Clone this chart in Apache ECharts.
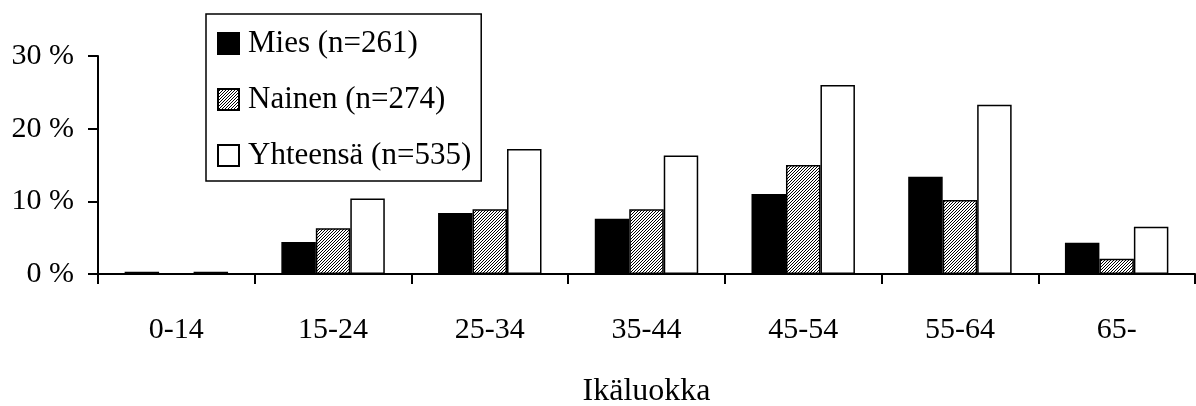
<!DOCTYPE html>
<html>
<head>
<meta charset="utf-8">
<script src="https://cdn.jsdelivr.net/npm/echarts@6/dist/echarts.min.js"></script>
<style>
html,body{margin:0;padding:0;background:#fff;}
#chart{width:1196px;height:406px;}
</style>
</head>
<body>
<div id="chart"></div>
<script>
var categories = ['0-14', '15-24', '25-34', '35-44', '45-54', '55-64', '65-'];
var seriesNames = ['Mies (n=261)', 'Nainen (n=274)', 'Yhteensä (n=535)'];
var mies = [0.3, 4.4, 8.4, 7.6, 11.0, 13.4, 4.3];
var nainen = [0, 6.3, 8.9, 8.9, 15.0, 10.2, 2.1];
var yhteensa = [0.3, 10.4, 17.2, 16.3, 26.0, 23.3, 6.5];
var yTicks = [0, 10, 20, 30];

var FONT = '"Liberation Serif", "Times New Roman", serif';

// hatch pattern
var pc = document.createElement('canvas');
pc.width = 3; pc.height = 3;
var pctx = pc.getContext('2d');
pctx.fillStyle = '#ffffff';
pctx.fillRect(0, 0, 3, 3);
pctx.fillStyle = '#000000';
for (var x = 0; x < 3; x++) {
  for (var y = 0; y < 3; y++) {
    if ((x + y) % 3 === 2) pctx.fillRect(x, y, 1, 1);
  }
}
var hatch = { image: pc, repeat: 'repeat' };

var chart = echarts.init(document.getElementById('chart'), null, { renderer: 'canvas' });
chart.setOption({
  animation: false,
  backgroundColor: '#ffffff',
  textStyle: { fontFamily: FONT, color: '#000' },
  grid: { left: 98, right: 1, top: 56, bottom: 132, containLabel: false, outerBoundsMode: 'none' },
  legend: {
    orient: 'vertical',
    left: 206,
    top: 14,
    padding: [14, 10, 10, 11],
    itemGap: 25,
    itemWidth: 21,
    itemHeight: 21,
    borderColor: '#000',
    borderWidth: 1.5,
    backgroundColor: '#fff',
    icon: 'rect',
    textStyle: { fontFamily: FONT, fontSize: 31, color: '#000', lineHeight: 30, padding: [0, 0, 0, 4] },
    data: seriesNames
  },
  xAxis: {
    type: 'category',
    data: categories,
    name: 'Ikäluokka',
    nameLocation: 'middle',
    nameGap: 102,
    nameTextStyle: { fontFamily: FONT, fontSize: 32, color: '#000' },
    axisLine: { lineStyle: { color: '#000', width: 2 } },
    axisTick: { show: true, length: 10, lineStyle: { color: '#000', width: 2 } },
    axisLabel: { fontFamily: FONT, fontSize: 30, color: '#000', margin: 41 },
    splitLine: { show: false }
  },
  yAxis: {
    type: 'value',
    min: yTicks[0],
    max: yTicks[yTicks.length - 1],
    interval: 10,
    axisLine: { show: true, lineStyle: { color: '#000', width: 2 } },
    axisTick: { show: true, length: 10, lineStyle: { color: '#000', width: 2 } },
    axisLabel: { fontFamily: FONT, fontSize: 30, color: '#000', margin: 24, formatter: '{value} %' },
    splitLine: { show: false }
  },
  series: [
    {
      name: seriesNames[0], type: 'bar', data: mies,
      barGap: '0%', barCategoryGap: '34%',
      itemStyle: { color: '#000', borderColor: '#000', borderWidth: 1.5 }
    },
    {
      name: seriesNames[1], type: 'bar', data: nainen,
      barGap: '0%', barCategoryGap: '34%',
      itemStyle: { color: hatch, borderColor: '#000', borderWidth: 1.5 }
    },
    {
      name: seriesNames[2], type: 'bar', data: yhteensa,
      barGap: '0%', barCategoryGap: '34%',
      itemStyle: { color: '#fff', borderColor: '#000', borderWidth: 1.5 }
    }
  ]
});
</script>
</body>
</html>
